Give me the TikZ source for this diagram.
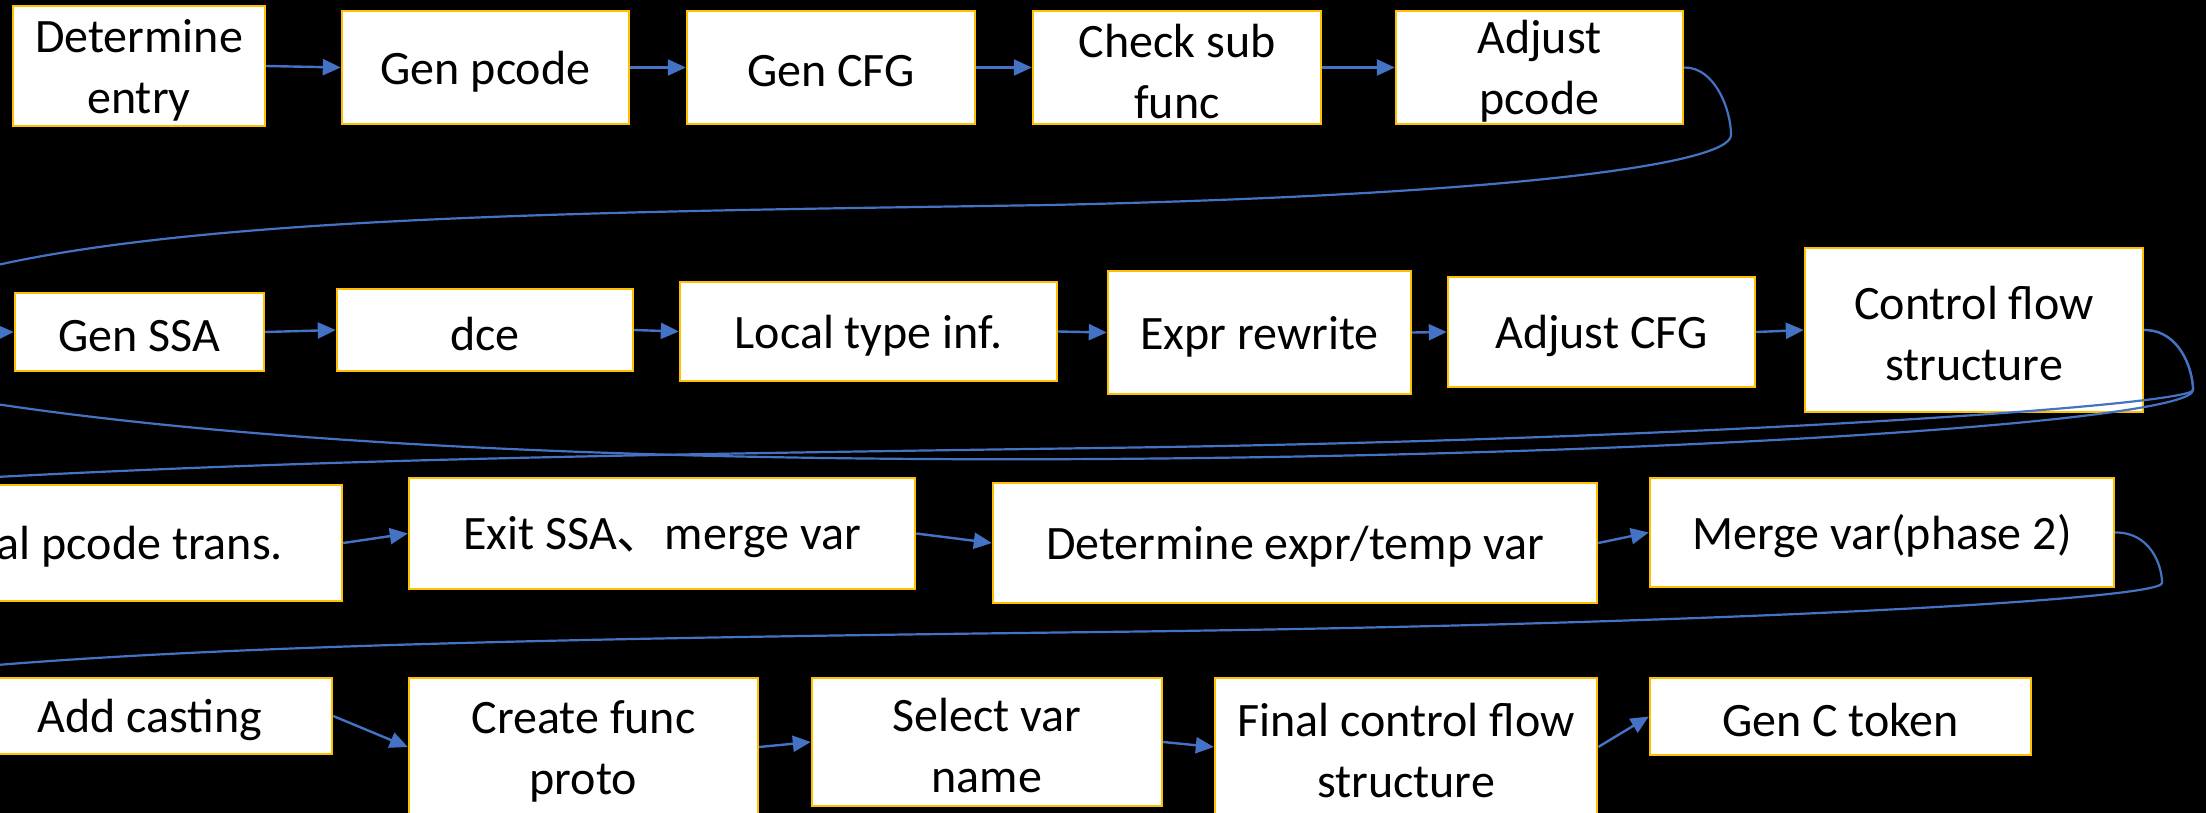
\documentclass[tikz,border=0pt]{standalone}
\usepackage{fontspec}
\setmainfont{Carlito}
\newfontfamily\cjk{Noto Sans CJK SC}
\usetikzlibrary{arrows.meta}
\definecolor{boxgold}{HTML}{FFC000}
\definecolor{conblue}{HTML}{4472C4}
\newcommand\bx[6]{\node[box, minimum width={(#4-#2)*0.5pt}, minimum height={(#5-#3)*0.5pt}] (#1) at ({(#2+#4)/2},{(#3+#5)/2}) {};
\node[boxtext] (#1-t) at ([yshift=-2pt]#1.center) {#6};}
\begin{document}
\begin{tikzpicture}[x=0.5pt,y=-0.5pt,
 box/.style={draw=boxgold, fill=white, line width=1.2pt, inner sep=0pt},
 boxtext/.style={inner sep=0pt, align=center, text=black, font=\fontsize{24pt}{30.5pt}\selectfont},
 con/.style={draw=conblue, line width=1.2pt, -{Triangle[length=9pt,width=8pt]}},
 curve/.style={draw=conblue, line width=1.1pt}]
\clip (0,0) rectangle (2206,813);
\fill[black] (0,0) rectangle (2206,813);
% row 1
\bx{DE}{13}{6}{265}{126}{Determine\\entry}
\bx{GP}{342}{11}{629}{124}{Gen pcode}
\bx{GC}{687}{11}{975}{124}{Gen CFG}
\bx{CS}{1033}{11}{1321}{124}{Check sub\\func}
\bx{AP}{1396}{11}{1683}{124}{Adjust\\pcode}
% row 2
\bx{SSA}{15}{293}{264}{371}{Gen SSA}
\bx{DCE}{337}{289}{633}{371}{dce}
\bx{LTI}{680}{282}{1057}{381}{Local type inf.}
\bx{ER}{1108}{271}{1411}{394}{Expr rewrite}
\bx{ACFG}{1448}{277}{1755}{387}{Adjust CFG}
\bx{CFS}{1805}{248}{2143}{412}{Control flow\\structure}
% row 3
\bx{PT}{-62}{485}{342}{601}{al pcode trans.}
\bx{ES}{409}{478}{915}{589}{Exit SSA{\cjk 、}merge var}
\bx{DET}{993}{483}{1597}{603}{Determine expr/temp var}
\bx{MV}{1650}{478}{2114}{587}{Merge var(phase 2)}
% row 4
\bx{AC}{-32}{678}{332}{754}{Add casting}
\bx{CFP}{409}{678}{758}{816}{Create func\\proto}
\bx{SVN}{812}{678}{1162}{806}{Select var\\name}
\bx{FCFS}{1215}{678}{1597}{816}{Final control flow\\structure}
\bx{GCT}{1650}{678}{2031}{755}{Gen C token}
% free ends
\coordinate (inSSA) at (-30,333);
\coordinate (e1) at (-60,280);
\coordinate (e2) at (-60,395);
\coordinate (e3) at (-60,480);
\coordinate (e4) at (-60,670);
% straight connectors
\draw[con] (DE.east) -- (GP.west);
\draw[con] (GP.east) -- (GC.west);
\draw[con] (GC.east) -- (CS.west);
\draw[con] (CS.east) -- (AP.west);
\draw[con] (inSSA) -- (SSA.west);
\draw[con] (SSA.east) -- (DCE.west);
\draw[con] (DCE.east) -- (LTI.west);
\draw[con] (LTI.east) -- (ER.west);
\draw[con] (ER.east) -- (ACFG.west);
\draw[con] (ACFG.east) -- (CFS.west);
\draw[con] (PT.east) -- (ES.west);
\draw[con] (ES.east) -- (DET.west);
\draw[con] (DET.east) -- (MV.west);
\draw[con] (AC.east) -- (CFP.west);
\draw[con] (CFP.east) -- (SVN.west);
\draw[con] (SVN.east) -- (FCFS.west);
\draw[con] (FCFS.east) -- (GCT.west);
% curved connectors
\draw[curve] (AP.east) .. controls (1715,67) and (1731,110) .. (1731,135) .. controls (1731,165) and (1500,195) .. (1050,205) .. controls (600,212) and (150,215) .. (e1);
\draw[curve] (CFS.east) .. controls (2180,330) and (2193,370) .. (2193,390) .. controls (2193,420) and (1700,455) .. (1100,459) .. controls (600,462) and (200,440) .. (e2);
\draw[curve] (CFS.east) .. controls (2180,330) and (2193,370) .. (2193,390) .. controls (2193,405) and (1700,440) .. (1100,448) .. controls (600,455) and (300,460) .. (e3);
\draw[curve] (MV.east) .. controls (2150,532) and (2162,565) .. (2162,583) .. controls (2162,600) and (1700,625) .. (1100,632) .. controls (600,638) and (200,645) .. (e4);
\end{tikzpicture}
\end{document}
